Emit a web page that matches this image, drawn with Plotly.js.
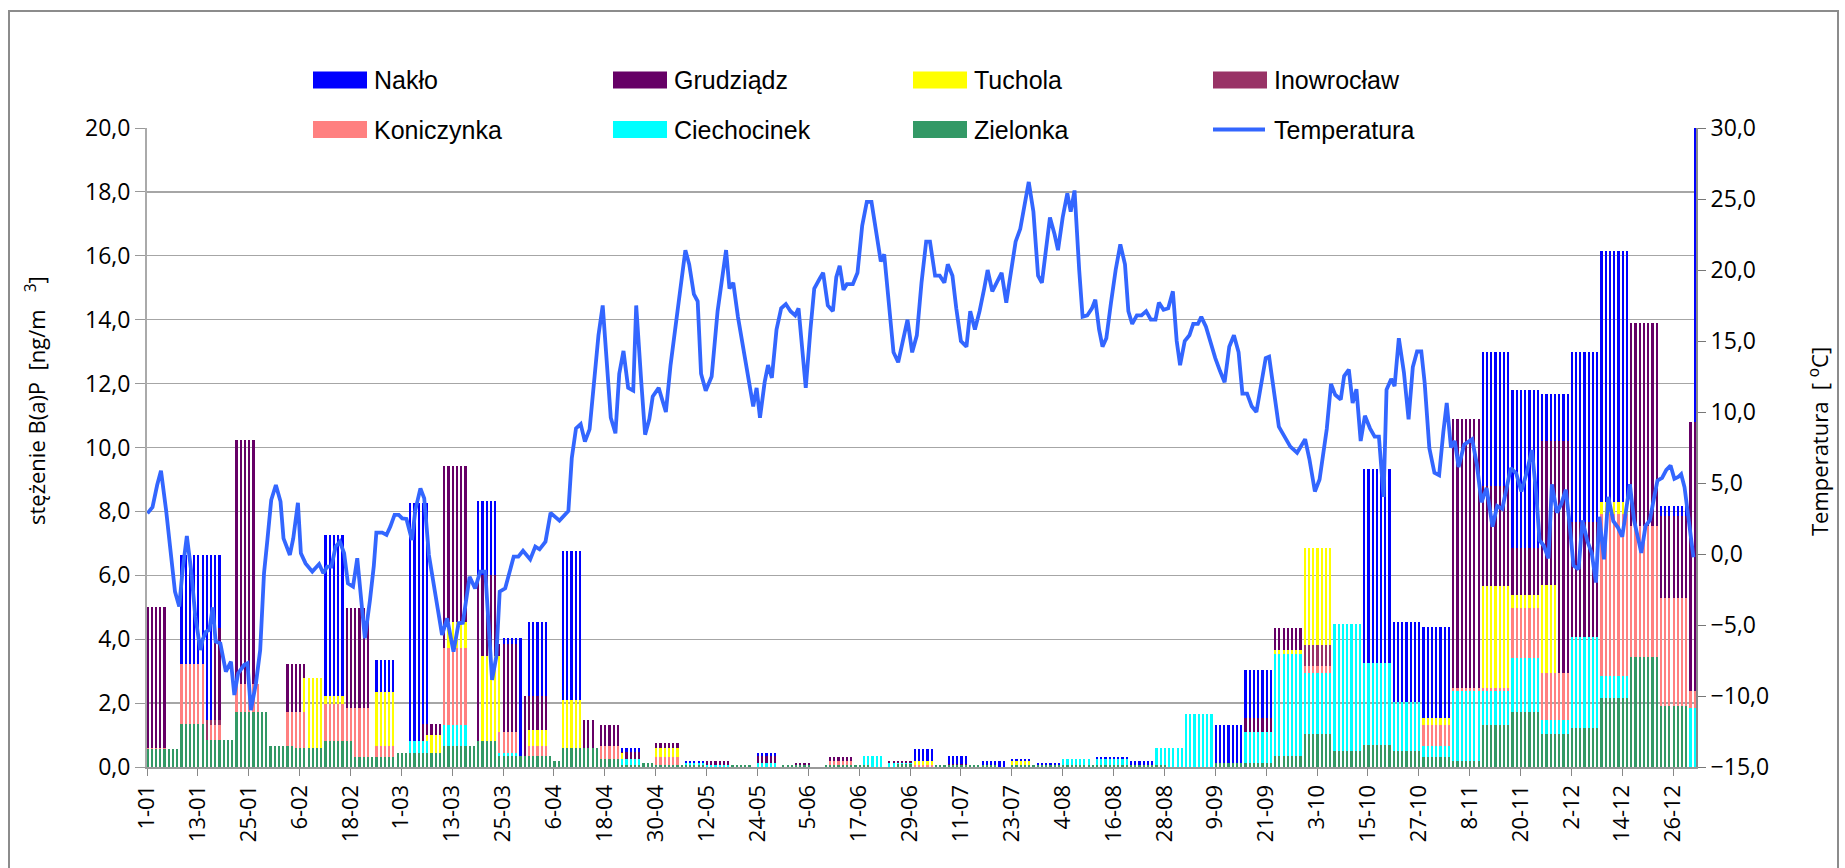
<!DOCTYPE html>
<html>
<head>
<meta charset="utf-8">
<script src="https://cdn.plot.ly/plotly-3.0.1.min.js"></script>
<style>html,body{margin:0;padding:0;background:#fff;}#chart{width:1845px;height:868px;}</style>
</head>
<body>
<div id="chart"></div>
<script>
// ---- categories (day of year 2008, 0 = 1 Jan) ----
const tickDays = [0,12,24,36,48,60,72,84,96,108,120,132,144,156,168,180,192,204,216,228,240,252,264,276,288,300,312,324,336,348,360];
const tickLabels = ["1-01","13-01","25-01","6-02","18-02","1-03","13-03","25-03","6-04","18-04","30-04","12-05","24-05","5-06","17-06","29-06","11-07","23-07","4-08","16-08","28-08","9-09","21-09","3-10","15-10","27-10","8-11","20-11","2-12","14-12","26-12"];

// ---- B(a)P concentrations, ng/m3: sampling periods (first day, last day) and value ----
const nakloFrom = [8,42,54,62,78,84,90,98,112,127,144,181,189,197,204,210,216,224,232,245,252,259,273,280,287,294,301,315,322,329,336,343,357,365];
const nakloTo   = [17,46,58,66,82,88,94,102,116,131,148,185,193,202,208,215,222,231,237,251,258,265,279,286,293,300,307,321,328,335,342,349,363,365];
const nakloVal  = [6.65,7.26,3.35,8.25,8.33,4.03,4.54,6.76,0.58,0.19,0.43,0.56,0.34,0.19,0.25,0.13,0.13,0.31,0.19,0.25,1.31,3.04,4.3,2.67,9.33,4.55,4.37,13.0,11.8,11.69,13.0,16.15,8.17,20.1];

const grudFrom = [0,16,21,33,47,65,70,78,83,89,102,107,112,120,132,144,153,161,169,175,189,238,259,266,280,294,308,315,322,329,336,350,357,364];
const grudTo   = [4,17,25,37,52,69,75,82,87,94,105,111,116,125,137,148,156,166,173,180,193,244,265,272,286,300,314,321,328,335,342,356,363,365];
const grudVal  = [5.0,4.36,10.23,3.22,4.97,1.35,9.42,6.0,3.85,2.22,1.47,1.31,0.48,0.74,0.19,0.34,0.13,0.31,0.13,0.19,0.1,0.31,1.52,4.34,2.38,2.0,10.9,8.8,6.84,10.2,7.68,13.9,7.85,10.8];

const tucholaFrom = [37,42,54,66,71,79,90,98,111,120,181,204,259,266,273,280,288,295,301,315,322,329,343,353,360];
const tucholaTo   = [41,46,58,69,75,83,94,102,112,125,185,208,260,272,279,281,288,296,307,321,328,332,349,353,362];
const tucholaVal  = [2.8,2.22,2.36,1.0,4.53,3.47,1.16,2.1,0.43,0.58,0.19,0.19,0.74,3.66,6.84,2.5,2.05,1.6,1.53,5.65,5.37,5.7,8.28,7.47,4.88];

const inowFrom = [3,8,14,78,266,273];
const inowTo   = [6,13,17,82,266,279];
const inowVal  = [0.11,2.55,1.47,0.76,0.85,3.82];

const konFrom = [0,8,15,21,33,42,47,54,70,83,90,107,120,161,181,273,301,308,315,322,329,343,350,357,364];
const konTo   = [4,13,17,26,37,46,52,58,75,87,94,111,125,166,185,279,307,314,321,328,335,349,356,363,365];
const konVal  = [0.58,3.22,1.31,2.6,1.71,1.97,1.84,0.66,3.74,1.08,0.66,0.66,0.31,0.19,0.06,3.16,1.31,2.46,2.46,4.99,2.93,7.93,7.53,5.3,2.38];

const ciechFrom = [33,42,47,62,70,78,83,90,98,112,127,132,144,169,175,216,224,238,245,259,266,273,280,287,294,301,308,315,322,329,336,343,350,357,364];
const ciechTo   = [37,46,52,66,75,82,87,94,102,116,131,137,148,173,180,222,231,244,251,265,272,279,286,293,300,307,314,321,328,335,342,349,356,363,365];
const ciechVal  = [0.24,0.06,0.11,0.81,1.31,0.58,0.43,0.19,0.45,0.25,0.13,0.06,0.13,0.34,0.13,0.25,0.25,0.58,1.66,1.1,3.54,2.93,4.49,3.25,2.05,0.67,2.37,2.37,3.42,1.47,4.06,2.86,3.25,1.86,1.84];

const zielFrom = [0,8,14,21,29,35,42,49,54,59,70,78,83,90,96,98,107,112,117,120,126,138,150,160,177,186,204,252,259,266,273,280,287,294,301,308,315,322,329,336,343,350,357];
const zielTo   = [7,13,20,28,34,41,48,53,58,69,77,82,89,95,97,106,111,116,119,125,131,142,156,170,180,200,240,258,265,272,279,286,293,300,307,314,321,328,335,342,349,356,363];
const zielVal  = [0.56,1.35,0.85,1.71,0.66,0.58,0.81,0.32,0.32,0.45,0.66,0.81,0.34,0.34,0.19,0.58,0.25,0.06,0.13,0.06,0.06,0.06,0.06,0.06,0.1,0.06,0.06,0.13,0.13,0.34,1.02,0.51,0.68,0.51,0.31,0.19,1.33,1.72,1.02,1.23,2.17,3.43,1.92];

// ---- temperature [°C] (day of year, value) ----
const tempDay = [0.1,1.3,2.4,3.3,4.5,5.6,6.6,7.6,8.4,9.4,10.4,11.4,12.6,13.1,13.9,14.7,15.5,16.2,17.3,18.6,19.8,20.6,21.5,22.9,23.7,24.5,25.7,26.7,27.6,28.4,29.3,30.4,31.5,32.2,33.7,34.5,35.6,36.3,37.4,39.0,40.6,41.6,42.5,43.5,44.5,45.5,46.5,47.4,48.6,49.6,50.5,51.4,52.6,53.5,54.1,55.5,56.5,57.4,58.4,59.4,60.2,61.2,62.5,63.3,64.5,65.4,66.5,67.2,68.3,69.6,70.8,72.3,73.5,74.5,76.1,77.4,78.6,79.8,81.4,82.4,83.2,84.5,86.5,87.6,88.7,90.4,91.6,92.6,94.0,95.2,97.3,99.4,100.2,101.2,102.3,103.3,104.4,105.6,106.5,107.5,108.3,109.4,110.5,111.4,112.4,113.5,114.7,115.4,116.6,117.5,118.5,119.3,120.7,122.4,123.5,124.9,125.7,127.0,127.9,129.0,129.9,130.7,131.8,133.2,134.6,135.5,136.6,137.4,138.3,139.4,140.8,141.9,143.0,143.8,144.6,145.7,146.5,147.4,148.5,149.6,150.7,151.8,152.9,153.7,154.6,155.4,156.5,157.4,158.7,159.5,160.6,161.8,162.6,163.4,164.3,165.1,166.5,167.6,168.7,169.8,170.9,172.0,173.1,173.9,175.0,176.1,177.2,178.3,179.4,180.5,181.6,182.7,183.8,184.7,185.9,187.0,188.1,188.9,190.0,190.9,192.0,193.3,194.2,195.3,196.4,197.5,198.3,199.4,200.5,201.6,202.7,203.8,204.9,206.0,206.9,208.0,209.1,210.2,211.1,212.2,213.0,214.1,214.9,216.0,217.1,217.9,218.8,219.9,220.7,221.8,222.9,223.7,224.6,225.4,226.3,227.4,228.5,229.6,230.7,231.5,232.4,233.5,234.6,235.7,236.8,237.9,238.7,239.8,240.9,242.0,242.9,243.7,244.8,245.9,246.8,247.9,248.7,249.8,250.9,252.0,253.1,254.2,255.3,256.4,257.5,258.4,259.5,260.6,261.7,262.8,263.9,264.7,265.8,267.0,267.7,269.7,271.3,273.2,274.2,275.5,276.6,278.3,279.3,280.3,281.6,282.4,283.5,284.4,285.3,286.3,287.3,288.5,289.6,290.6,291.7,292.4,293.5,294.3,295.3,296.5,297.6,298.6,299.6,300.6,301.4,302.5,303.7,304.8,305.8,306.6,307.6,308.5,309.4,310.7,312.6,313.7,314.8,316.0,317.4,318.5,319.7,320.7,321.7,323.0,324.2,325.4,326.7,327.7,328.5,329.5,330.6,331.4,332.6,333.6,334.7,335.5,336.5,337.7,338.6,339.8,340.8,341.8,342.6,343.7,344.7,345.9,347.0,348.0,348.8,349.8,350.8,351.7,352.5,353.5,354.5,355.3,356.3,357.4,358.4,359.4,360.3,361.2,361.9,362.7,363.7,364.8];
const tempC = [2.86,3.3,4.86,5.87,3.1,-0.07,-2.65,-3.7,-1.13,1.27,-1.13,-4.4,-6.76,-6.06,-5.47,-5.35,-3.76,-6.17,-6.29,-8.28,-7.58,-9.93,-8.4,-7.82,-7.7,-10.99,-9.11,-6.76,-1.36,0.99,3.8,4.86,3.69,1.1,-0.07,1.1,3.61,0.05,-0.66,-1.24,-0.71,-1.36,-0.89,-0.89,0.52,0.87,0.05,-2.07,-2.3,-0.3,-3.0,-5.94,-3.24,-0.85,1.5,1.5,1.34,1.93,2.75,2.75,2.51,2.47,0.99,3.1,4.62,3.92,-0.07,-1.36,-3.6,-5.7,-4.53,-6.88,-4.88,-4.84,-1.6,-2.42,-1.24,-1.24,-8.87,-7.23,-2.65,-2.42,-0.19,-0.19,0.23,-0.38,0.52,0.33,0.87,2.9,2.35,3.03,6.74,8.85,9.15,7.91,8.78,13.0,15.4,17.5,13.8,9.6,8.5,12.7,14.3,11.7,11.5,17.5,12.1,8.4,9.5,11.1,11.7,10.0,13.3,16.7,18.7,21.4,20.4,18.3,17.8,12.7,11.5,12.5,17.1,19.1,21.4,18.7,19.1,16.7,14.2,12.1,10.4,11.7,9.6,12.1,13.3,12.4,15.8,17.3,17.6,17.1,16.8,17.3,14.2,11.7,15.8,18.7,19.4,19.8,17.5,17.1,19.5,20.3,18.6,19.0,19.0,19.8,23.1,24.8,24.8,22.6,20.6,21.1,17.3,14.2,13.5,15.0,16.5,14.2,15.4,19.1,22.0,22.0,19.6,19.6,19.1,20.4,19.6,17.3,15.0,14.6,17.1,15.8,17.1,18.7,20.0,18.5,19.1,19.8,17.7,19.7,22.0,22.9,24.5,26.2,24.1,19.6,19.1,21.6,23.7,22.5,21.4,23.7,25.4,24.1,25.6,20.0,16.7,16.8,17.3,17.9,15.8,14.6,15.2,17.7,20.0,21.8,20.4,17.1,16.2,16.8,16.8,17.1,16.5,16.5,17.7,17.2,17.3,18.5,15.0,13.3,15.0,15.4,16.2,16.2,16.7,16.0,14.8,13.8,12.9,12.1,14.6,15.4,14.2,11.3,11.3,10.4,10.0,12.1,13.8,13.9,11.3,8.97,8.6,7.56,7.13,8.08,6.69,4.4,5.25,8.8,11.98,11.21,10.88,12.53,12.99,10.63,11.6,7.96,9.74,8.85,8.26,8.26,4.02,11.57,12.33,11.82,15.2,12.79,9.48,13.17,14.26,14.26,12.03,7.45,5.72,5.54,8.59,10.63,7.5,7.96,6.13,7.7,8.09,6.31,3.64,4.65,1.93,3.38,3.18,4.65,6.05,5.67,4.4,5.67,7.32,4.27,0.97,0.58,-0.31,4.91,2.92,3.51,4.53,2.36,-0.81,-1.07,2.36,0.89,0.08,-2.01,2.62,-0.38,4.02,2.31,1.86,1.22,2.87,4.91,2.36,1.22,0.08,1.98,2.36,3.64,5.16,5.36,5.92,6.23,5.29,5.42,5.62,4.7,2.49,-0.23];

const seriesNames = ["Nakło","Grudziądz","Tuchola","Inowrocław","Koniczynka","Ciechocinek","Zielonka"];
const seriesColors = ["#0000FF","#660066","#FFFF00","#993366","#FF8080","#00FFFF","#339966"];
const seriesDefs = [
  [nakloFrom,nakloTo,nakloVal],[grudFrom,grudTo,grudVal],[tucholaFrom,tucholaTo,tucholaVal],
  [inowFrom,inowTo,inowVal],[konFrom,konTo,konVal],[ciechFrom,ciechTo,ciechVal],[zielFrom,zielTo,zielVal]
];
const yTitle = 'stężenie B(a)P  [ng/m   <sup>3</sup>]';
const y2Title = 'Temperatura  [ <sup>o</sup>C]';

const NDAYS = 366;
const dayIdx = Array.from({length:NDAYS},(_,i)=>i);
function daily(from,to,val){
  const y = new Array(NDAYS).fill(null);
  for(let k=0;k<from.length;k++){ for(let d=from[k]; d<=to[k] && d<NDAYS; d++){ y[d]=val[k]; } }
  return y;
}

const traces = seriesDefs.map((s,i)=>({
  type:'bar', name:seriesNames[i], x:dayIdx, y:daily(s[0],s[1],s[2]),
  width:0.52, offset:-0.14, marker:{color:seriesColors[i], line:{width:0}},
  showlegend:false, hoverinfo:'skip'
}));
traces.push({type:'scatter', mode:'lines', name:'Temperatura', x:tempDay, y:tempC, yaxis:'y2',
  line:{color:'#3366FF', width:3.8}, showlegend:false, hoverinfo:'skip'});

// ---- layout helpers (pixel -> paper) ----
const L=147, R=1696, T=128, B=767;
const px = X => (X-L)/(R-L);
const py = Y => (B-Y)/(B-T);

const shapes = [];
const annotations = [];
// white box behind legend (hides top gridline there)
shapes.push({type:'rect', xref:'paper', yref:'paper', x0:px(259), x1:px(1468), y0:py(140), y1:py(55), fillcolor:'#ffffff', line:{width:0}, layer:'above'});
// outer frame
shapes.push({type:'rect', xref:'paper', yref:'paper', x0:px(9), x1:px(1838), y0:py(900), y1:py(11), fillcolor:'rgba(0,0,0,0)', line:{color:'#8c8c8c', width:2}, layer:'above'});

const legendNames = seriesNames.concat(["Temperatura"]);
const legendColors = seriesColors.concat(["#3366FF"]);
for(let i=0;i<8;i++){
  const row = Math.floor(i/4), col = i%4;
  const x0 = 313 + 300*col, yc = row===0 ? 80 : 129.5;
  if(i<7){
    shapes.push({type:'rect', xref:'paper', yref:'paper', x0:px(x0), x1:px(x0+54), y0:py(yc+8.5), y1:py(yc-8.5), fillcolor:legendColors[i], line:{width:0}, layer:'above'});
  } else {
    shapes.push({type:'line', xref:'paper', yref:'paper', x0:px(x0), x1:px(x0+52), y0:py(yc), y1:py(yc), line:{color:legendColors[i], width:4}, layer:'above'});
  }
  annotations.push({xref:'paper', yref:'paper', x:px(x0+59), y:py(yc), xanchor:'left', yanchor:'middle', showarrow:false,
    text:legendNames[i], font:{family:'Liberation Sans, Arial, sans-serif', size:25, color:'#000'}});
}
// axis titles
annotations.push({xref:'paper', yref:'paper', x:px(35), y:py(400), xanchor:'center', yanchor:'middle', showarrow:false,
  textangle:-90, text:yTitle, font:{family:'Open Sans, sans-serif', size:22, color:'#000'}});
annotations.push({xref:'paper', yref:'paper', x:px(1818), y:py(441), xanchor:'center', yanchor:'middle', showarrow:false,
  textangle:-90, text:y2Title, font:{family:'Open Sans, sans-serif', size:22, color:'#000'}});

const tickFont = {family:'Open Sans, sans-serif', size:23, color:'#000'};
const layout = {
  width:1845, height:868,
  margin:{l:L, r:1845-R, t:T, b:868-B, pad:0},
  paper_bgcolor:'#ffffff', plot_bgcolor:'#ffffff',
  separators:', ',
  barmode:'overlay', bargap:0,
  showlegend:false,
  xaxis:{range:[0,365.4], tickmode:'array', tickvals:tickDays, ticktext:tickLabels, tickangle:-90,
    ticks:'outside', ticklen:7, tickcolor:'#888', showgrid:false, zeroline:false,
    showline:true, linecolor:'#999', linewidth:2, tickfont:{family:'Open Sans, sans-serif', size:22, color:'#000'}},
  yaxis:{range:[0,20], dtick:2, tick0:0, tickformat:'.1f', ticks:'outside', ticklen:10, tickcolor:'#999',
    showgrid:true, gridcolor:'#a6a6a6', gridwidth:1.3, zeroline:false, showline:true, linecolor:'#aaa', linewidth:2,
    tickfont:tickFont},
  yaxis2:{range:[-15,30], dtick:5, tick0:-15, tickformat:'.1f', overlaying:'y', side:'right', ticks:'outside', ticklen:8, tickcolor:'#777',
    showgrid:false, zeroline:false, showline:true, linecolor:'#888', linewidth:2, tickfont:tickFont},
  shapes:shapes, annotations:annotations
};

Plotly.newPlot('chart', traces, layout, {displayModeBar:false, staticPlot:true});
</script>
</body>
</html>
